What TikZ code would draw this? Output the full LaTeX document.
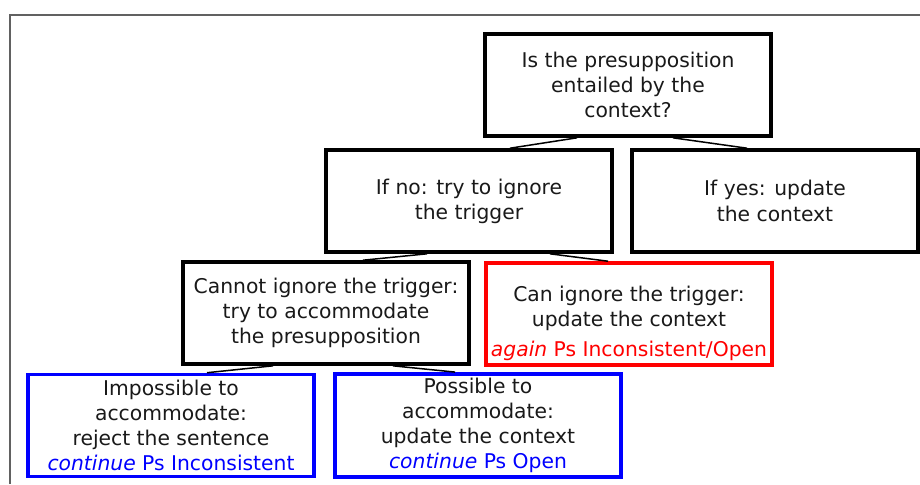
\documentclass[tikz,border=0pt]{standalone}
\usepackage{fontspec}
\setmainfont{DejaVu Sans}
\usepackage{tikz}
\tikzset{
  psbox/.style={draw=black, line width=1.8pt, minimum width=143pt, minimum height=51pt, inner sep=2pt, align=center, text=black!90, font=\fontsize{10.15}{12.6}\selectfont},
  psred/.style={psbox, draw=red},
  psblue/.style={psbox, draw=blue},
  pslink/.style={line width=0.75pt, draw=black},
  psframe/.style={line width=1pt, draw=black!62},
}

\begin{document}
\begin{tikzpicture}[x=0.5pt, y=-0.5pt]
\useasboundingbox (0,0) rectangle (920,484);
\draw[psframe] (9.5,484) |- (920,14.5);
\node[psbox] (qtop) at (628,85) {Is the presupposition\\entailed by the\\context?};
\node[psbox] (ifno) at (469,201) {If no: try to ignore\\the trigger};
\node[psbox] (ifyes) at (775,201) {If yes: update\\the context};
\node[psbox] (cannot) at (326,313) {Cannot ignore the trigger:\\try to accommodate\\the presupposition};
\node[psred] (canign) at (629,314) {\rule{0pt}{17pt}Can ignore the trigger:\\update the context\\[2pt]\textcolor{red}{\textit{again} Ps Inconsistent/Open}};
\node[psblue] (impos) at (171,425.5) {Impossible to\\accommodate:\\reject the sentence\\\textcolor{blue}{\textit{continue} Ps Inconsistent}};
\node[psblue] (pos) at (478,425.5) {Possible to\\accommodate:\\update the context\\\textcolor{blue}{\textit{continue} Ps Open}};
\draw[pslink] ([xshift=-25.5pt]qtop.south) -- ([xshift=20.5pt]ifno.north);
\draw[pslink] ([xshift=22.5pt]qtop.south) -- ([xshift=-14pt]ifyes.north);
\draw[pslink] ([xshift=-21pt]ifno.south) -- ([xshift=18.5pt]cannot.north);
\draw[pslink] ([xshift=40.5pt]ifno.south) -- ([xshift=-10.5pt]canign.north);
\draw[pslink] ([xshift=-26.5pt]cannot.south) -- ([xshift=18pt]impos.north);
\draw[pslink] ([xshift=33.5pt]cannot.south) -- ([xshift=-11.5pt]pos.north);
\end{tikzpicture}
\end{document}
